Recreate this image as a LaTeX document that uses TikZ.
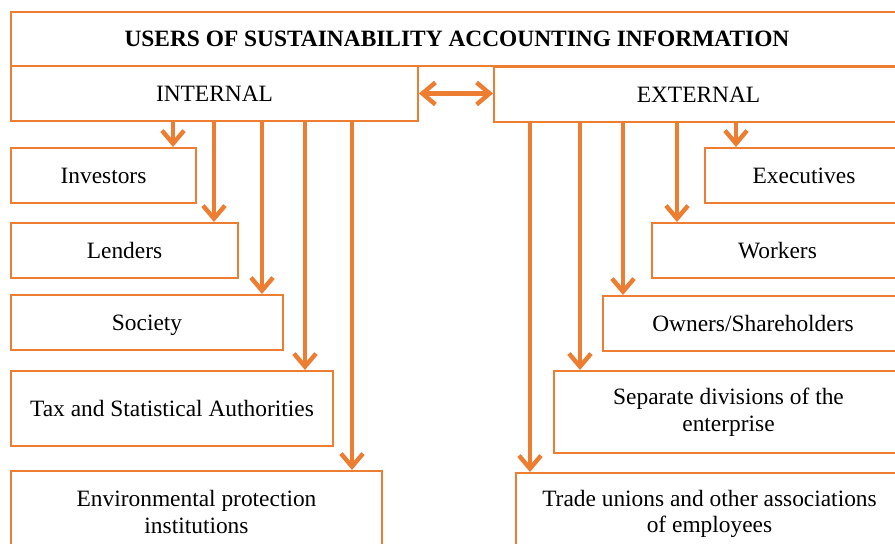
\documentclass[tikz,border=0pt]{standalone}
\usepackage{fontspec}
\setmainfont{Liberation Serif}
\usetikzlibrary{arrows.meta}
\definecolor{accent}{RGB}{237, 125, 49}

\begin{document}
\begin{tikzpicture}[x=0.5pt, y=-0.5pt,
  box/.style={draw=accent, line width=1pt, fill=white, inner sep=0pt,
    align=center, font=\fontsize{11.7}{13.3}\selectfont},
  single/.style={box, text height=8pt, text depth=0pt},
  link/.style={draw=accent, line width=2.2pt,
    -{Straight Barb[length=6.5pt, width=11pt]}}]
  \useasboundingbox (0, 0) rectangle (895, 544);
  \clip (0, 0) rectangle (895, 544);

  % heading
  \node[single, minimum width=446pt, minimum height=27pt,
    font=\fontsize{11.7}{13.3}\selectfont\bfseries] (title) at (457, 39)
    {USERS OF SUSTAINABILITY ACCOUNTING INFORMATION};
  \node[single, minimum width=203.5pt, minimum height=27.5pt] (internal) at (214.5, 93.5) {INTERNAL};
  \node[single, minimum width=204.5pt, minimum height=27.5pt] (external) at (698.5, 94.5) {EXTERNAL};

  \draw[link, {Straight Barb[length=6.5pt, width=11pt]}-{Straight Barb[length=6.5pt, width=11pt]}]
    (internal.east) -- (external.west |- internal.east);

  % internal users
  \node[single, minimum width=92.5pt, minimum height=27.5pt] (investors) at (103.5, 175.5) {Investors};
  \node[single, minimum width=113.5pt, minimum height=27.5pt] (lenders) at (124.5, 250.5) {Lenders};
  \node[single, minimum width=136pt, minimum height=27.5pt] (society) at (147, 322.5) {Society};
  \node[single, minimum width=161pt, minimum height=37.5pt] (tax) at (172, 408.5) {Tax and Statistical Authorities};
  \node[box, minimum width=185.5pt, minimum height=41pt] (env) at (196.5, 512)
    {Environmental protection\\institutions};

  \foreach \x/\n in {173/investors, 214/lenders, 262/society, 305/tax, 352/env} {
    \draw[link] (internal.south -| \x,0) -- (\n.north -| \x,0);
  }

  % external users
  \node[single, minimum width=99pt, minimum height=27.5pt] (executives) at (804, 175.5) {Executives};
  \node[single, minimum width=125.5pt, minimum height=27.5pt] (workers) at (777.5, 250.5) {Workers};
  \node[single, minimum width=150pt, minimum height=27.5pt] (owners) at (753, 323.5) {Owners/Shareholders};
  \node[box, minimum width=174.5pt, minimum height=41pt] (divisions) at (728.5, 412)
    {Separate divisions of the\\enterprise};
  \node[box, minimum width=193.5pt, minimum height=41pt] (unions) at (709.5, 514)
    {Trade unions and other associations\\of employees};

  \foreach \x/\n in {736/executives, 677/workers, 623/owners, 580/divisions, 530/unions} {
    \draw[link] (external.south -| \x,0) -- (\n.north -| \x,0);
  }
\end{tikzpicture}
\end{document}
